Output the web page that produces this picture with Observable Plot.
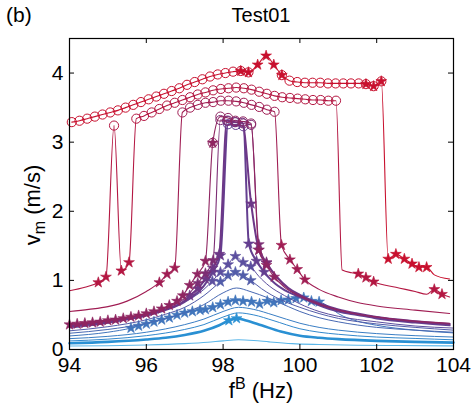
<!DOCTYPE html>
<html><head><meta charset="utf-8">
<script src="https://cdn.jsdelivr.net/npm/d3@7"></script>
<script src="https://cdn.jsdelivr.net/npm/@observablehq/plot@0.6"></script>
<style>body{margin:0;background:#fff}#chart{width:473px;height:404px}</style>
</head><body><div id="chart"></div>
<script>
// ---- tick labels / text ----
const xTicks = [94, 96, 98, 100, 102, 104];
const yTicks = [0, 1, 2, 3, 4];
const titleText = "Test01";
const panelText = "(b)";

// ---- data: frequency f^B (Hz), velocity v_m (m/s), marker codes ('-' none, '*' star, 'o' circle, '@' circle+star) ----
const L1_f = [94,95,96,97,97.6,98,98.4,98.8,99.2,99.8,100.5,101.5,102.5,104];
const L1_v = [0.05,0.055,0.065,0.085,0.105,0.125,0.14,0.13,0.11,0.085,0.072,0.062,0.057,0.052];
const L1_m = "--------------";

const L2_f = [94,95,96,96.5,97,97.5,97.9,98.15,98.35,98.6,99,99.5,100,100.5,101,102,103,104];
const L2_v = [0.09,0.11,0.145,0.17,0.21,0.27,0.35,0.42,0.45,0.42,0.35,0.26,0.20,0.17,0.15,0.125,0.11,0.10];
const L2_m = "-------**---------";

const L3_f = [94,95,96,97,97.5,98,98.4,98.8,99.3,100,100.5,101,102,103,104];
const L3_v = [0.124,0.15,0.2,0.29,0.36,0.47,0.53,0.5,0.42,0.30,0.25,0.22,0.18,0.16,0.14];
const L3_m = "---------------";

const L4_f = [94,95,96,97,97.5,98,98.4,98.8,99.3,100,100.5,101,102,103,104];
const L4_v = [0.157,0.19,0.25,0.36,0.44,0.55,0.61,0.58,0.50,0.38,0.32,0.28,0.23,0.20,0.18];
const L4_m = "---------------";

const L5_f = [94,95,95.6,95.8,96,96.2,96.4,96.6,96.8,97,97.2,97.4,97.54,97.73,97.93,98.13,98.32,98.52,98.74,98.95,99.15,99.32,99.51,99.7,99.9,100.1,100.3,100.5,100.8,101,101.5,102,103,104];
const L5_v = [0.196,0.25,0.31,0.34,0.37,0.40,0.43,0.46,0.50,0.53,0.55,0.57,0.58,0.61,0.65,0.69,0.71,0.70,0.69,0.66,0.70,0.68,0.71,0.72,0.74,0.75,0.70,0.69,0.60,0.52,0.41,0.35,0.28,0.24];
const L5_m = "--**************************------";

const L6_f = [94,95,96,96.5,97,97.5,98,98.35,98.7,99.2,99.7,100,100.5,101,102,103,104];
const L6_v = [0.235,0.29,0.38,0.45,0.53,0.65,0.82,0.89,0.84,0.74,0.62,0.55,0.46,0.40,0.32,0.28,0.25];
const L6_m = "-----------------";

const S2_f = [94,95,96,96.5,97,97.5,97.93,98.13,98.32,98.52,98.72,99,99.5,100,100.5,101,102,103,104];
const S2_v = [0.27,0.33,0.43,0.51,0.61,0.78,0.98,1.07,1.12,1.07,1.00,0.88,0.72,0.61,0.52,0.45,0.37,0.32,0.28];
const S2_m = "------*****--------";

const S1_f = [94,95,96,96.5,97,97.5,97.72,97.93,98.13,98.32,98.52,98.72,98.93,99.2,99.6,100,100.5,101,102,103,104];
const S1_v = [0.31,0.38,0.50,0.58,0.69,0.87,0.99,1.12,1.23,1.35,1.26,1.20,1.06,0.92,0.78,0.66,0.55,0.48,0.40,0.34,0.31];
const S1_m = "------******---------";

const P4_f = [94,95,96,96.5,97,97.5,97.73,97.93,98.13,98.33,98.53,98.67,98.87,99.07,99.3,99.6,100,100.5,101,101.5,102,103,103.9];
const P4_v = [0.33,0.39,0.49,0.57,0.69,0.92,1.12,1.36,3.26,3.25,3.23,1.53,1.28,1.12,0.98,0.86,0.76,0.64,0.55,0.50,0.45,0.39,0.35];
const P4_m = "------**ooo***---------";

const P3_f = [94,95,96,96.5,97,97.13,97.34,97.54,97.73,97.9,98.1,98.3,98.5,98.73,98.93,99.13,99.4,99.7,100,100.5,101,101.5,102,103,103.9];
const P3_v = [0.34,0.40,0.50,0.58,0.71,0.78,0.88,1.02,1.18,1.38,3.31,3.29,3.28,2.11,1.44,1.25,1.05,0.89,0.79,0.67,0.58,0.52,0.47,0.41,0.37];
const P3_m = "-----*****ooo***---------";

const P2_f = [94,95,96,96.5,97,97.34,97.54,97.74,97.93,98.13,98.33,98.53,98.73,98.93,99.13,99.4,99.7,100,100.5,101,101.5,102,103,103.9];
const P2_v = [0.35,0.41,0.51,0.60,0.74,0.96,1.10,1.29,3.32,3.31,3.29,3.27,3.25,1.52,1.26,1.04,0.87,0.78,0.66,0.57,0.51,0.47,0.40,0.37];
const P2_m = "-----***ooooo**---------";

const P1_f = [94,94.2,94.4,94.6,94.8,95,95.2,95.4,95.6,95.8,96,96.2,96.4,96.6,96.8,96.95,97.13,97.33,97.54,97.73,97.93,98.13,98.32,98.52,98.73,98.93,99.13,99.33,99.6,100,100.5,101,101.5,102,103,103.9];
const P1_v = [0.36,0.37,0.38,0.39,0.40,0.42,0.43,0.45,0.47,0.49,0.52,0.55,0.59,0.64,0.70,0.78,0.93,1.09,1.28,2.99,3.37,3.35,3.31,3.30,3.27,1.44,1.22,1.05,0.90,0.77,0.65,0.57,0.51,0.47,0.41,0.38];
const P1_m = "*******************@ooooo***--------";

const R3_f = [94,94.5,95,95.5,96,96.34,96.54,96.74,96.94,97.14,97.34,97.54,97.74,97.94,98.14,98.34,98.54,98.74,98.94,99.14,99.34,99.52,99.74,99.93,100.13,100.5,101,101.5,102,103,103.9];
const R3_v = [0.55,0.58,0.62,0.70,0.84,0.97,1.09,1.18,3.43,3.50,3.54,3.57,3.58,3.60,3.60,3.59,3.57,3.54,3.51,3.47,3.44,1.51,1.30,1.16,1.01,0.87,0.76,0.68,0.63,0.57,0.52];
const R3_m = "-----***ooooooooooooo****------";

const R2_f = [94,94.4,94.75,94.95,95.16,95.35,95.55,95.74,95.94,96.14,96.34,96.54,96.74,96.94,97.14,97.34,97.54,97.74,97.94,98.14,98.34,98.54,98.74,98.94,99.14,99.34,99.54,99.74,99.94,100.14,100.34,100.54,100.74,100.94,101.1,101.35,101.52,101.72,101.92,102.5,103,103.3,103.5,103.7,103.9];
const R2_v = [0.85,0.90,0.97,1.05,3.24,1.14,1.26,3.34,3.38,3.43,3.48,3.53,3.57,3.61,3.65,3.69,3.72,3.75,3.77,3.78,3.79,3.78,3.76,3.73,3.70,3.67,3.65,3.64,3.63,3.62,3.61,3.61,3.60,3.60,1.15,1.11,1.095,1.04,0.98,0.90,0.84,0.80,0.87,0.80,0.76];
const R2_m = "--**o**ooooooooooooooooooooooooooo--***---**-";

const R1_f = [94.06,94.26,94.46,94.66,94.86,95.06,95.26,95.46,95.66,95.86,96.06,96.26,96.46,96.66,96.86,97.06,97.26,97.46,97.66,97.86,98.06,98.26,98.46,98.66,98.9,99.12,99.32,99.53,99.73,99.93,100.13,100.33,100.53,100.73,100.93,101.13,101.33,101.53,101.72,101.92,102.12,102.3,102.5,102.72,102.92,103.1,103.3,103.5,103.9];
const R1_v = [3.29,3.31,3.34,3.37,3.40,3.43,3.46,3.50,3.54,3.58,3.62,3.66,3.70,3.74,3.78,3.83,3.87,3.91,3.95,3.98,4.00,4.02,4.03,4.01,4.12,4.25,4.12,3.97,3.89,3.87,3.86,3.86,3.86,3.85,3.85,3.85,3.85,3.85,3.84,3.81,3.88,1.31,1.38,1.31,1.24,1.19,1.19,1.08,1.02];
const R1_m = "oooooooooooooooooooooo@@***@oooooooooo@@@******--";

// ---- styles (drawn bottom to top) ----
const series = [
  {f: L1_f, v: L1_v, m: L1_m, color: "#5cb7e9", w: 1.1},
  {f: L3_f, v: L3_v, m: L3_m, color: "#3388cc", w: 1},
  {f: L4_f, v: L4_v, m: L4_m, color: "#3a7ec4", w: 1},
  {f: L5_f, v: L5_v, m: L5_m, color: "#4075bc", w: 1},
  {f: L6_f, v: L6_v, m: L6_m, color: "#4869b3", w: 1},
  {f: S2_f, v: S2_v, m: S2_m, color: "#525ca9", w: 1},
  {f: S1_f, v: S1_v, m: S1_m, color: "#5c4f9f", w: 1},
  {f: L2_f, v: L2_v, m: L2_m, color: "#2a90d3", w: 2.6},
  {f: P4_f, v: P4_v, m: P4_m, color: "#643f90", w: 2},
  {f: P3_f, v: P3_v, m: P3_m, color: "#6d3787", w: 2},
  {f: P2_f, v: P2_v, m: P2_m, color: "#7c2d74", w: 1.1},
  {f: P1_f, v: P1_v, m: P1_m, color: "#8f2561", w: 1.1},
  {f: R3_f, v: R3_v, m: R3_m, color: "#a01d53", w: 1.1},
  {f: R2_f, v: R2_v, m: R2_m, color: "#b41742", w: 1.1},
  {f: R1_f, v: R1_v, m: R1_m, color: "#c8102e", w: 1.1}
];

const W = 473, H = 404, mL = 69, mR = 20, mT = 38, mB = 55;
const innerW = W - mL - mR, innerH = H - mT - mB, tickLen = 5;
const font = "'Liberation Sans', Arial, Helvetica, sans-serif";

const marks = [];
for (const s of series) {
  const rows = s.f.map((f, i) => ({f, v: s.v[i], m: s.m[i] || "-"}));
  marks.push(Plot.line(rows, {x: "f", y: "v", stroke: s.color, strokeWidth: s.w, curve: "monotone-x"}));
  marks.push(Plot.dot(rows.filter(d => d.m === "o" || d.m === "@"), {x: "f", y: "v", r: 4.6, fill: "none", stroke: s.color, strokeWidth: 1}));
  marks.push(Plot.dot(rows.filter(d => d.m === "*" || d.m === "@"), {x: "f", y: "v", symbol: "star", r: 3.4, fill: s.color, stroke: s.color, strokeWidth: 0.6}));
}

const chart = Plot.plot({
  width: W, height: H,
  marginLeft: mL, marginRight: mR, marginTop: mT, marginBottom: mB,
  style: {fontFamily: font, fontSize: "21px", color: "#000", background: "#fff"},
  x: {domain: [94, 104]},
  y: {domain: [0, 4.5]},
  marks: [
    ...marks,
    Plot.tickX(xTicks, {x: d => d, insetTop: innerH - tickLen, stroke: "#000"}),
    Plot.tickX(xTicks, {x: d => d, insetBottom: innerH - tickLen, stroke: "#000"}),
    Plot.tickY(yTicks, {y: d => d, insetRight: innerW - tickLen, stroke: "#000"}),
    Plot.tickY(yTicks, {y: d => d, insetLeft: innerW - tickLen, stroke: "#000"}),
    Plot.frame({stroke: "#000", strokeWidth: 1.2}),
    Plot.axisX(xTicks, {tickSize: 0, tickPadding: 8, label: null, fontSize: 21, tickFormat: d3.format("d")}),
    Plot.axisY(yTicks, {tickSize: 0, tickPadding: 6, label: null, fontSize: 21, tickFormat: d3.format("d")})
  ]
});

const svg = d3.select(chart);
svg.append("text").attr("x", 6).attr("y", 22).attr("text-anchor", "start").attr("font-family", font).attr("font-size", 21).attr("fill", "#000").text(panelText);
svg.append("text").attr("x", mL + innerW / 2).attr("y", 22).attr("text-anchor", "middle").attr("font-family", font).attr("font-size", 20).attr("fill", "#000").text(titleText);
const xl = svg.append("text").attr("x", mL + innerW / 2).attr("y", 398).attr("text-anchor", "middle").attr("font-family", font).attr("font-size", 22).attr("fill", "#000");
xl.append("tspan").text("f");
xl.append("tspan").attr("dy", -9).attr("font-size", 16).text("B");
xl.append("tspan").attr("dy", 9).text(" (Hz)");
const yl = svg.append("text").attr("transform", `translate(40,205) rotate(-90)`).attr("text-anchor", "middle").attr("font-family", font).attr("font-size", 22).attr("fill", "#000");
yl.append("tspan").text("v");
yl.append("tspan").attr("dy", 5).attr("font-size", 16).text("m");
yl.append("tspan").attr("dy", -5).text(" (m/s)");

document.getElementById("chart").appendChild(chart);
</script>
</body></html>
